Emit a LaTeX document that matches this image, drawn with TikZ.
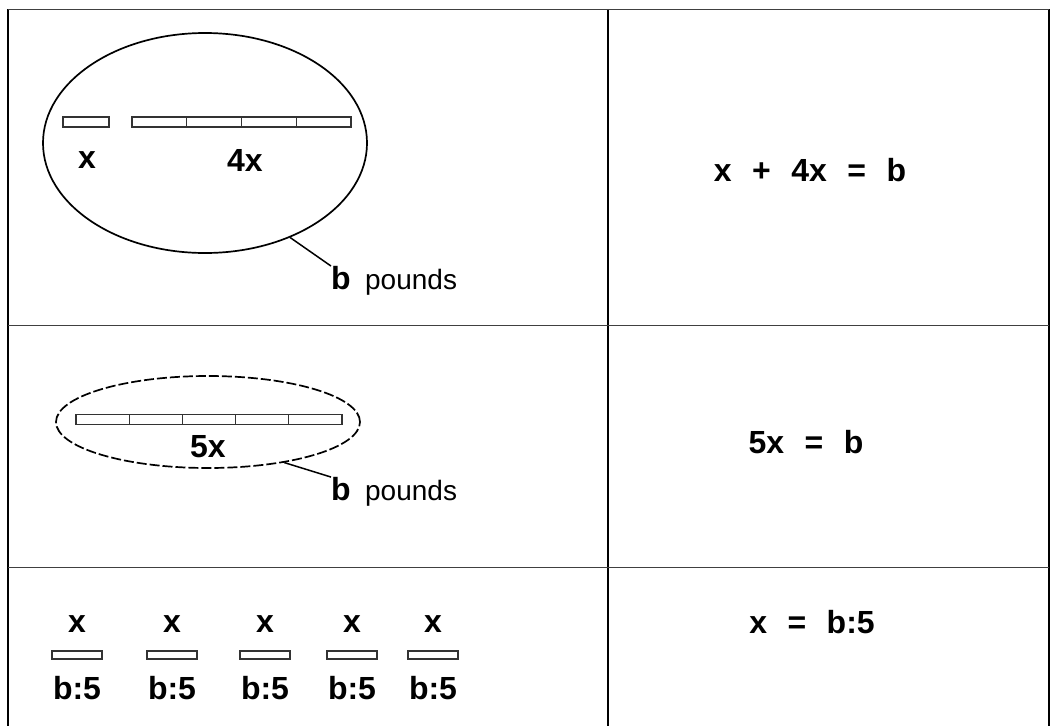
\documentclass[tikz,border=0pt]{standalone}
\usepackage{fontspec}
\newfontfamily\lblfont[WordSpace=2.3]{Liberation Sans}
\usetikzlibrary{shapes.geometric,positioning}

\tikzset{
  lbl/.style={font=\lblfont\fontsize{32}{36}\selectfont\bfseries,inner sep=0pt},
  plain/.style={font=\lblfont\fontsize{28}{32}\selectfont,inner sep=0pt},
  unitbar/.style={draw=black!80,line width=1.2pt,minimum height=10pt,inner sep=0pt},
  rule/.style={line width=1pt,draw=black!75},
  border/.style={line width=2pt},
}

\begin{document}
\begin{tikzpicture}[x=1pt,y=-1pt]
  \useasboundingbox (0,0) rectangle (1051,726);
  % table
  \draw[border] (8,9) -- (8,726);
  \draw[border] (608,9) -- (608,726);
  \draw[border,line width=1.5pt] (1049,9) -- (1049,726);
  \draw[rule] (8,9) -- (1049,9);
  \draw[rule] (8,325) -- (1049,325);
  \draw[rule] (8,567) -- (1049,567);

  % row 1: x and 4x
  \node[draw,ellipse,line width=1.7pt,minimum width=324pt,minimum height=220pt] (oval1) at (205,143) {};
  \node[unitbar,minimum width=46pt] (xbar) at (86,122) {};
  \foreach \i in {0,...,3}
    \node[unitbar,minimum width=54.75pt] (fourbar\i) at ({159.4+\i*54.75},122) {};
  \node[lbl] (xlbl) at (87,160) {x};
  \node[lbl] (fourlbl) at (245,160) {4x};
  \node[lbl] (bone) at (341,278) {b};
  \node[plain,anchor=base west] (poundsone) at ([xshift=14pt]bone.base east) {pounds};
  \draw[line width=1.5pt] (oval1.-48) -- (bone.north west);
  \node[lbl] (eqone) at (810,170) {x + 4x = b};

  % row 2: 5x
  \node[draw,ellipse,dash pattern=on 10pt off 3pt,line width=1.7pt,minimum width=304pt,minimum height=92pt] (oval2) at (208,422) {};
  \foreach \i in {0,...,4}
    \node[unitbar,minimum width=53.2pt] (fivebar\i) at ({102.6+\i*53.2},419.5) {};
  \node[lbl] (fivelbl) at (208,447) {5x};
  \node[lbl] (btwo) at (341,489) {b};
  \node[plain,anchor=base west] (poundstwo) at ([xshift=14pt]btwo.base east) {pounds};
  \draw[line width=1.5pt] (oval2.-28) -- (btwo.north west);
  \node[lbl] (eqtwo) at (806,442) {5x = b};

  % row 3: five parts
  \foreach \px [count=\k] in {77,172,265,352,433} {
    \node[lbl] (part\k) at (\px,624) {x};
    \node[unitbar,minimum width=50pt,minimum height=8pt] (partbar\k) at (\px,655) {};
    \node[lbl] (share\k) at (\px,688) {b:5};
  }
  \node[lbl] (eqthree) at (812,622) {x = b:5};
\end{tikzpicture}
\end{document}
